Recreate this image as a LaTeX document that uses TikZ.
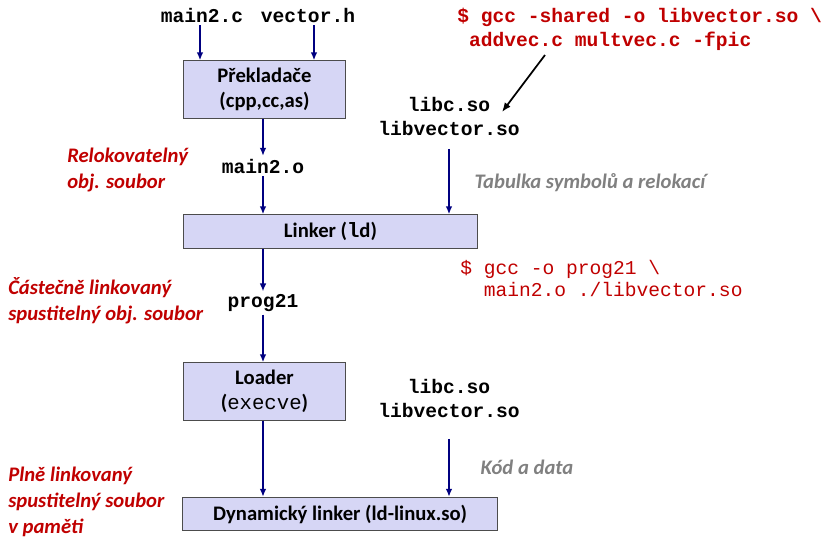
\documentclass[tikz,border=0pt]{standalone}
\usepackage{fontspec}
\setmainfont{Carlito}
\newfontfamily\codefont{Liberation Mono}
\usetikzlibrary{arrows.meta}

\definecolor{boxfill}{RGB}{214,214,245}
\definecolor{flowblue}{RGB}{0,0,128}
\definecolor{cmdred}{RGB}{192,0,0}
\definecolor{notegray}{RGB}{128,128,128}

\newcommand{\toolfont}{\fontsize{15.5}{18.75}\selectfont\bfseries}
\newcommand{\filefont}{\codefont\bfseries\fontsize{14.7}{18}\selectfont}
\newcommand{\notefont}{\fontsize{15.5}{19.5}\selectfont\bfseries\itshape}

\begin{document}
\begin{tikzpicture}[x=0.75pt,y=-0.75pt,
    tool/.style={draw=black!70, line width=0.75pt, fill=boxfill, align=center, inner sep=0pt, font=\toolfont},
    file/.style={align=center, inner sep=2pt, font=\filefont},
    flow/.style={flowblue, line width=1.5pt, -{Latex[length=6pt,width=5pt]}},
    redlabel/.style={cmdred, align=left, anchor=west, inner sep=0pt, font=\notefont},
    graylabel/.style={notegray, inner sep=0pt, font=\notefont}]
    \useasboundingbox (0,0) rectangle (826,537);

    % vstupy
    \node[file] (mainc) at (202,15) {main2.c};
    \node[file] (vech) at (308,15) {vector.h};

    % boxy
    \node[tool, minimum width=122pt, minimum height=43pt] (prekl) at (264.5,89.5) {Překladače\\(cpp,cc,as)};
    \node[tool, minimum width=221pt, minimum height=25pt] (linker) at (330.5,231.5) {Linker ({\codefont l}d)};
    \node[tool, minimum width=122pt, minimum height=43pt] (loader) at (264.5,391.5) {Loader\\({\codefont\mdseries execve})};
    \node[tool, minimum width=236pt, minimum height=25pt] (dynlink) at (340,514) {Dynamický linker (ld-linux.so)};

    % mezivysledky
    \node[file] (maino) at (263,166) {main2.o};
    \node[file] (prog) at (263,303) {prog21};
    \node[file] (libsa) at (449,116) {libc.so\\libvector.so};
    \node[file] (libsb) at (449,398) {libc.so\\libvector.so};

    % prikazy
    \node[cmdred, anchor=west, inner sep=0pt, align=left, font=\filefont] (cmdso) at (457,29) {\$ gcc -shared -o libvector.so \textbackslash\\~addvec.c multvec.c -fpic};
    \node[cmdred, anchor=west, inner sep=0pt, align=left, font=\codefont\fontsize{14.7}{16}\selectfont] (cmdprog) at (460,278.5) {\$ gcc -o prog21 \textbackslash\\~~main2.o ./libvector.so};
    \coordinate (gcctail) at (545,55);
    \coordinate (gcchead) at (502,112);

    % popisky
    \node[redlabel] (relok) at (67,170) {Relokovatelný\\obj. soubor};
    \node[redlabel] (castecne) at (8,300.5) {Částečně linkovaný\\spustitelný obj. soubor};
    \node[redlabel] (plne) at (8,502) {Plně linkovaný\\spustitelný soubor\\v paměti};
    \node[graylabel] (tabulka) at (590,183) {Tabulka symbolů a relokací};
    \node[graylabel] (kod) at (527,467) {Kód a data};

    % sipky
    \draw[flow] ([xshift=-1.5pt]mainc.south) -- ([xshift=-1.5pt]mainc.south |- prekl.north);
    \draw[flow] ([xshift=4.5pt]vech.south) -- ([xshift=4.5pt]vech.south |- prekl.north);
    \draw[flow] (maino.north |- prekl.south) -- (maino.north);
    \draw[flow] (maino.south) -- (maino.south |- linker.north);
    \draw[flow] ([yshift=-8pt]libsa.south) -- (libsa.south |- linker.north);
    \draw[flow] (prog.north |- linker.south) -- (prog.north);
    \draw[flow] (prog.south) -- (prog.south |- loader.north);
    \draw[flow] (prog.south |- loader.south) -- (prog.south |- dynlink.north);
    \draw[flow] ([yshift=-14pt]libsb.south) -- (libsb.south |- dynlink.north);
    \draw[black, line width=1.3pt, -{Latex[length=7pt,width=5.5pt]}] (gcctail) -- (gcchead);
\end{tikzpicture}
\end{document}
